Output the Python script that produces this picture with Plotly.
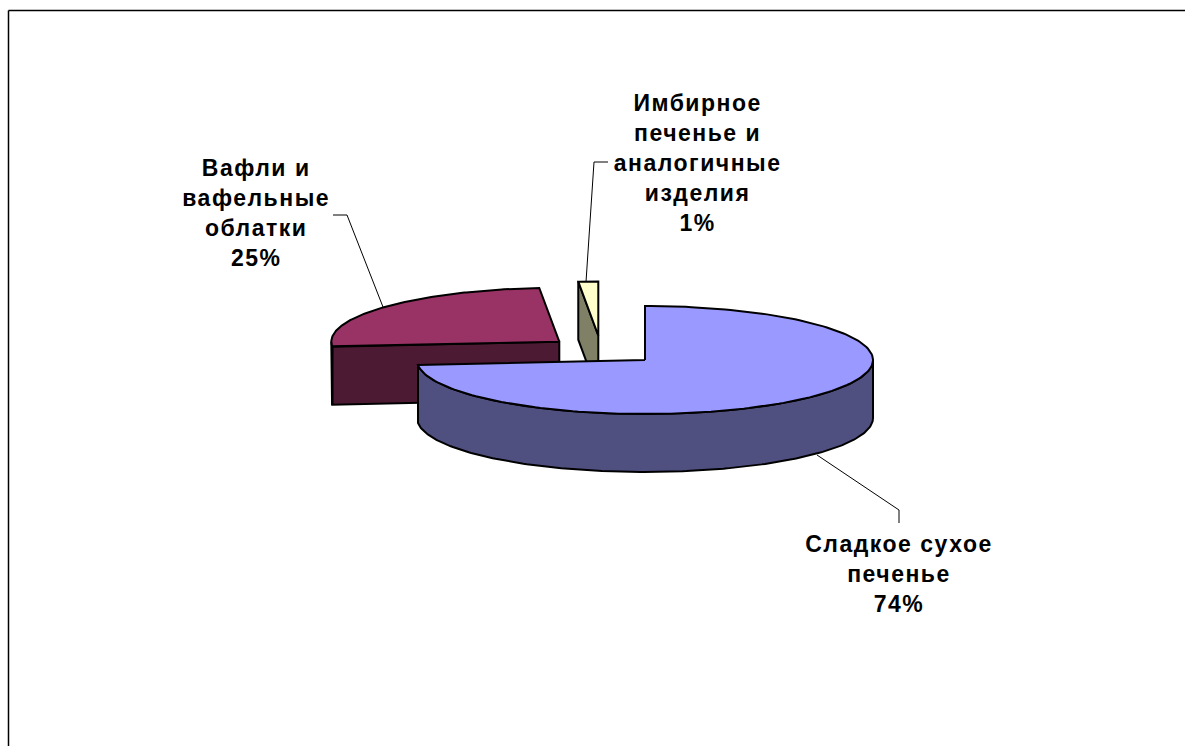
import numpy as np
import plotly.graph_objects as go

categories = ["Сладкое сухое печенье", "Вафли и вафельные облатки", "Имбирное печенье и аналогичные изделия"]
label_text = ["Сладкое сухое<br>печенье", "Вафли и<br>вафельные<br>облатки", "Имбирное<br>печенье и<br>аналогичные<br>изделия"]
values = [73.5, 25.1, 1.4]
top_colors = ["#9999FF", "#993366", "#FFFFCC"]
side_colors = ["#4F4F80", "#4D1A33", "#808066"]

# geometry of the tilted pie, in page pixels
RX, RY, DEPTH = 228, 54, 58
vertices = [(645, 360), (559.3, 341.7), (598.3, 335.5)]
label_pos = [(899, 574), (256, 213), (697, 163)]
leaders = [[(817, 455), (899, 510), (899, 523)],
           [(333, 215), (347, 215), (383, 307)],
           [(608, 162), (594, 162), (586, 282)]]

fractions = np.array(values) / sum(values)
ends = np.cumsum(fractions) * 360
starts = ends - fractions * 360


def rim(v, a0, a1, dz=0):
    t = np.radians(np.linspace(a0, a1, 181))
    return v[0] + RX * np.sin(t), v[1] - RY * np.cos(t) + dz


def poly(fig, x, y, color, width=2):
    fig.add_trace(go.Scatter(x=list(x), y=list(y), mode="lines", fill="toself", fillcolor=color,
                             line=dict(color="black", width=width), hoverinfo="skip", showlegend=False))


fig = go.Figure()
# drawing order: back slices first, front slice last
for i in [1, 2, 0]:
    v = vertices[i]
    a0, a1 = starts[i], ends[i]
    # radial cut face at the start angle
    sx, sy = rim(v, a0, a0)
    poly(fig, [sx[0], v[0], v[0], sx[0], sx[0]],
         [sy[0], v[1], v[1] + DEPTH, sy[0] + DEPTH, sy[0]], side_colors[i])
    # outer wall, only the part that faces the viewer
    b0, b1 = max(a0, 90), min(a1, 270)
    if b1 > b0:
        ox, oy = rim(v, b0, b1)
        bx, by = rim(v, b1, b0, DEPTH)
        poly(fig, np.r_[ox, bx, ox[0]], np.r_[oy, by, oy[0]], side_colors[i])
    # top face
    tx, ty = rim(v, a0, a1)
    poly(fig, np.r_[v[0], tx, v[0]], np.r_[v[1], ty, v[1]], top_colors[i])

for pts in leaders:
    fig.add_trace(go.Scatter(x=[p[0] for p in pts], y=[p[1] for p in pts], mode="lines",
                             line=dict(color="black", width=1), hoverinfo="skip", showlegend=False))

for txt, val, (lx, ly) in zip(label_text, values, label_pos):
    fig.add_annotation(x=lx, y=ly, xref="x", yref="y", showarrow=False, align="center",
                       text=f"<b>{txt}<br>{round(val)}%</b>",
                       font=dict(family="Liberation Sans", size=23, color="black"))

fig.add_shape(type="line", x0=8.5, x1=8.5, y0=10.5, y1=746, line=dict(color="black", width=1.5))
fig.add_shape(type="line", x0=8.5, x1=1185, y0=10.5, y1=10.5, line=dict(color="black", width=1.5))

fig.update_layout(width=1185, height=746, margin=dict(l=0, r=0, t=0, b=0),
                  paper_bgcolor="white", plot_bgcolor="white",
                  xaxis=dict(range=[0, 1185], visible=False, fixedrange=True),
                  yaxis=dict(range=[746, 0], visible=False, fixedrange=True))
page_css = ("document.body.style.margin='0';document.body.style.overflow='hidden';"
            "document.querySelectorAll('.annotation-text').forEach(function(e){e.style.letterSpacing='1.5px';});")
fig.write_html("out.html", config={"displayModeBar": False}, post_script=page_css)
